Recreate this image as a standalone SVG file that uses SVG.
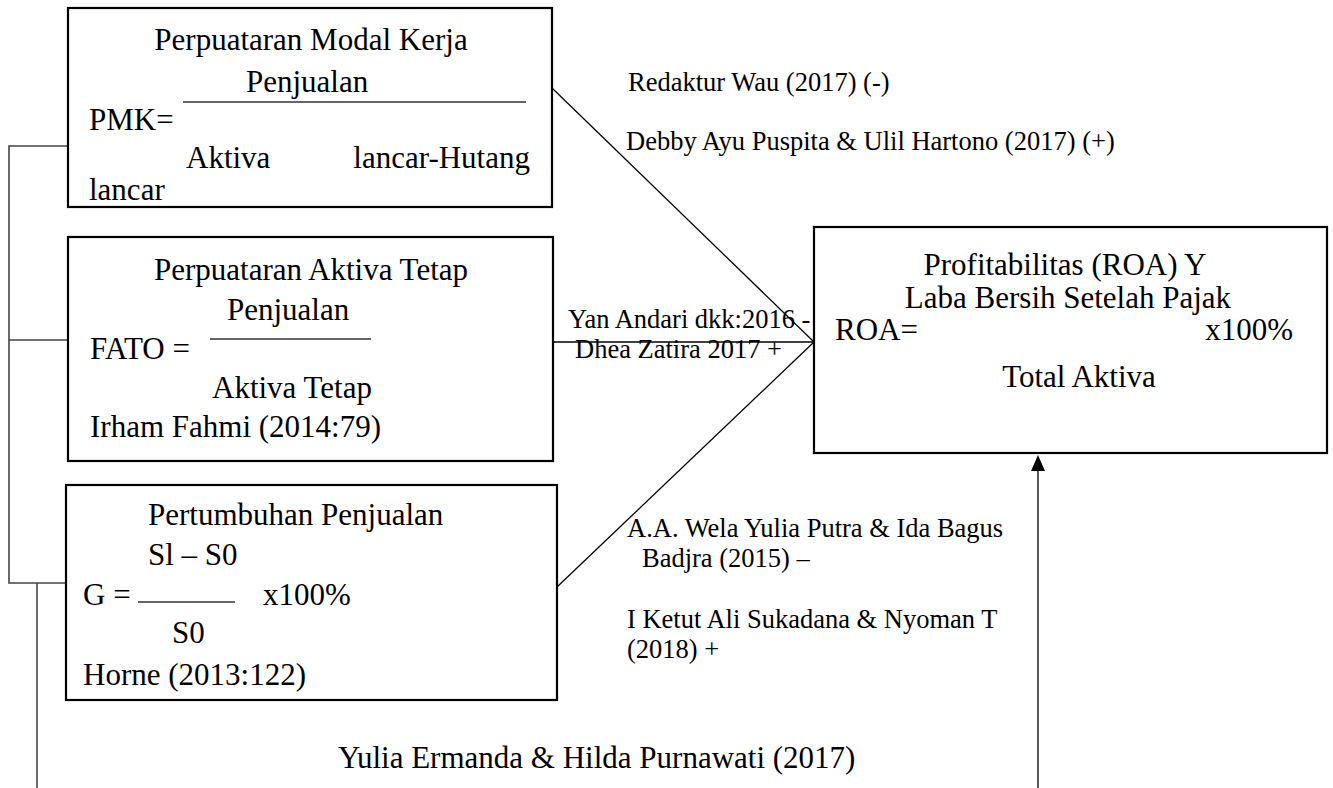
<svg xmlns="http://www.w3.org/2000/svg" width="1333" height="788" viewBox="0 0 1333 788">
<style>
.box{fill:#fff;stroke:#000;stroke-width:2.2}
.t{font-family:"Liberation Serif","Times New Roman",serif;font-size:31px;fill:#000}
.s{font-family:"Liberation Serif","Times New Roman",serif;font-size:26.5px;fill:#000}
.c{text-anchor:middle}
.e{text-anchor:end}
.frac{stroke:#333;stroke-width:1.5}
.conn{stroke:#000;stroke-width:1.3;fill:none}
.br{stroke:#444;stroke-width:1.6;fill:none}
</style>
<rect width="1333" height="788" fill="#fff"/>
<g id="connectors">
<polyline class="br" points="68,146 9,146 9,583 66,583"/>
<line class="br" x1="9" y1="340" x2="68" y2="340"/>
<line class="br" x1="37" y1="583" x2="37" y2="788"/>
<line class="conn" x1="552" y1="88" x2="814" y2="342"/>
<line class="conn" x1="553" y1="342" x2="814" y2="342"/>
<line class="conn" x1="557" y1="587" x2="814" y2="342"/>
<line class="conn" x1="1038" y1="788" x2="1038" y2="470"/>
<path d="M1038,455 L1045,471 L1031,471 Z" fill="#000"/>
</g>
<g id="labels">
<text class="s" x="628" y="91">Redaktur Wau (2017) (-)</text>
<text class="s" x="626" y="150">Debby Ayu Puspita &amp; Ulil Hartono (2017) (+)</text>
<text class="s" x="568" y="328">Yan Andari dkk:2016 -</text>
<text class="s" x="575" y="358">Dhea Zatira 2017 +</text>
<text class="s" x="627" y="537">A.A. Wela Yulia Putra &amp; Ida Bagus</text>
<text class="s" x="642" y="567">Badjra (2015) –</text>
<text class="s" x="627" y="628">I Ketut Ali Sukadana &amp; Nyoman T</text>
<text class="s" x="627" y="658">(2018) +</text>
<text class="t" x="338" y="768">Yulia Ermanda &amp; Hilda Purnawati (2017)</text>
</g>
<g id="pmk">
<rect class="box" x="68" y="8" width="484" height="199"/>
<text class="t c" x="311" y="50">Perpuataran Modal Kerja</text>
<text class="t" x="246" y="92">Penjualan</text>
<line class="frac" x1="183" y1="102" x2="526" y2="102"/>
<text class="t" x="89" y="130">PMK=</text>
<text class="t" x="186" y="168">Aktiva</text>
<text class="t e" x="530" y="168">lancar-Hutang</text>
<text class="t" x="89" y="200">lancar</text>
</g>
<g id="fato">
<rect class="box" x="68" y="237" width="485" height="224"/>
<text class="t c" x="311" y="280">Perpuataran Aktiva Tetap</text>
<text class="t" x="227" y="320">Penjualan</text>
<line class="frac" x1="210" y1="339" x2="371" y2="339"/>
<text class="t" x="90" y="359">FATO =</text>
<text class="t" x="212" y="398">Aktiva Tetap</text>
<text class="t" x="90" y="437">Irham Fahmi (2014:79)</text>
</g>
<g id="growth">
<rect class="box" x="66" y="485" width="491" height="215"/>
<text class="t" x="148" y="525">Pertumbuhan Penjualan</text>
<text class="t" x="148" y="565">Sl – S0</text>
<text class="t" x="83" y="605">G =</text>
<line class="frac" x1="138" y1="602" x2="235" y2="602"/>
<text class="t" x="263" y="605">x100%</text>
<text class="t" x="172" y="643">S0</text>
<text class="t" x="83" y="685">Horne (2013:122)</text>
</g>
<g id="roa">
<rect class="box" x="814" y="227" width="513" height="226"/>
<text class="t c" x="1065" y="275">Profitabilitas (ROA) Y</text>
<text class="t c" x="1068" y="308">Laba Bersih Setelah Pajak</text>
<text class="t" x="835" y="340">ROA=</text>
<text class="t e" x="1293" y="340">x100%</text>
<text class="t c" x="1079" y="387">Total Aktiva</text>
</g>
</svg>
